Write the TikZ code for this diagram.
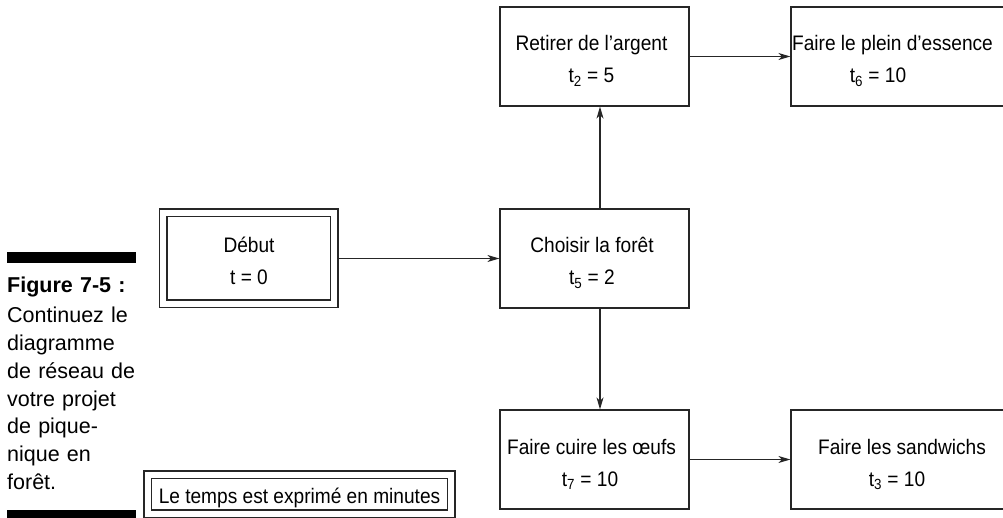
\documentclass[tikz,border=0pt]{standalone}
\usepackage{fontspec}
\setmainfont{Liberation Sans}
\newfontfamily\netfont{Liberation Sans}[FakeStretch=0.91]
\usetikzlibrary{arrows.meta}

\newcommand{\taskfont}{\netfont\fontsize{21pt}{25pt}\selectfont}
\newcommand{\figcapfont}{\fontsize{21.5pt}{27.7pt}\selectfont}

\tikzset{
    task/.style={draw=black!85, line width=1.2pt, minimum width=189pt, minimum height=99pt, inner sep=0pt},
    start/.style={draw=black!85, double, double distance=6pt, line width=1.5pt, inner sep=0pt, outer sep=4.5pt},
    txt/.style={anchor=base, inner sep=0pt, font=\taskfont},
    flow/.style={-{Stealth[length=12pt, width=7pt, inset=3.5pt]}, line width=1.1pt, draw=black!85}
}

\begin{document}
\begin{tikzpicture}[x=1pt, y=-1pt]
    \useasboundingbox (0,0) rectangle (1003,518);
    \clip (0,0) rectangle (1003,518);

    % Define the boxes of the network
    \node[task] (ret) at (594.5,56.5) {};
    \node[task] (cho) at (594.5,258.5) {};
    \node[task] (cui) at (594.5,459.5) {};
    \node[task, minimum width=218pt] (ple) at (900,56.5) {};
    \node[task, minimum width=218pt] (san) at (900,459.5) {};
    \node[start, minimum width=171pt, minimum height=91pt] (deb) at (248.5,258.5) {};
    \node[start, minimum width=303.5pt, minimum height=39pt] (note) at (299.25,494) {};

    % Write the name and the duration of each task
    \node[txt] (deb-a) at (249,253) {Début};
    \node[txt] (deb-b) at (249,285) {t = 0};
    \node[txt] (cho-a) at (592,253) {Choisir la forêt};
    \node[txt] (cho-b) at (592,285) {t\textsubscript{5} = 2};
    \node[txt] (ret-a) at (591.5,51) {Retirer de l’argent};
    \node[txt] (ret-b) at (591.5,83) {t\textsubscript{2} = 5};
    \node[txt] (cui-a) at (591.5,454) {Faire cuire les œufs};
    \node[txt] (cui-b) at (590,486) {t\textsubscript{7} = 10};
    \node[txt] (ple-a) at (892.5,51) {Faire le plein d’essence};
    \node[txt] (ple-b) at (878,83) {t\textsubscript{6} = 10};
    \node[txt] (san-a) at (902,454) {Faire les sandwichs};
    \node[txt] (san-b) at (897,486) {t\textsubscript{3} = 10};
    \node[txt] (note-a) at (299.5,503) {Le temps est exprimé en minutes};

    % Draw the arrows between the tasks
    \draw[flow] (deb.east) -- (cho.west);
    \draw[flow] ([xshift=5.5pt]cho.north) -- ([xshift=5.5pt]ret.south);
    \draw[flow] ([xshift=5.5pt]cho.south) -- ([xshift=5.5pt]cui.north);
    \draw[flow] (ret.east) -- (ple.west);
    \draw[flow] (cui.east) -- (san.west);

    % Draw the caption with its two bars
    \fill (6.5,252) rectangle (136,263);
    \fill (6.5,510) rectangle (136,518);
    \node[anchor=base west, inner sep=0pt, text width=135pt, align=left, font=\figcapfont] (cap) at (7,293)
        {\textbf{Figure 7-5 :}\\[2.3pt] Continuez le\\ diagramme\\ de réseau de\\ votre projet\\ de pique-\\ nique en\\ forêt.};
\end{tikzpicture}
\end{document}
